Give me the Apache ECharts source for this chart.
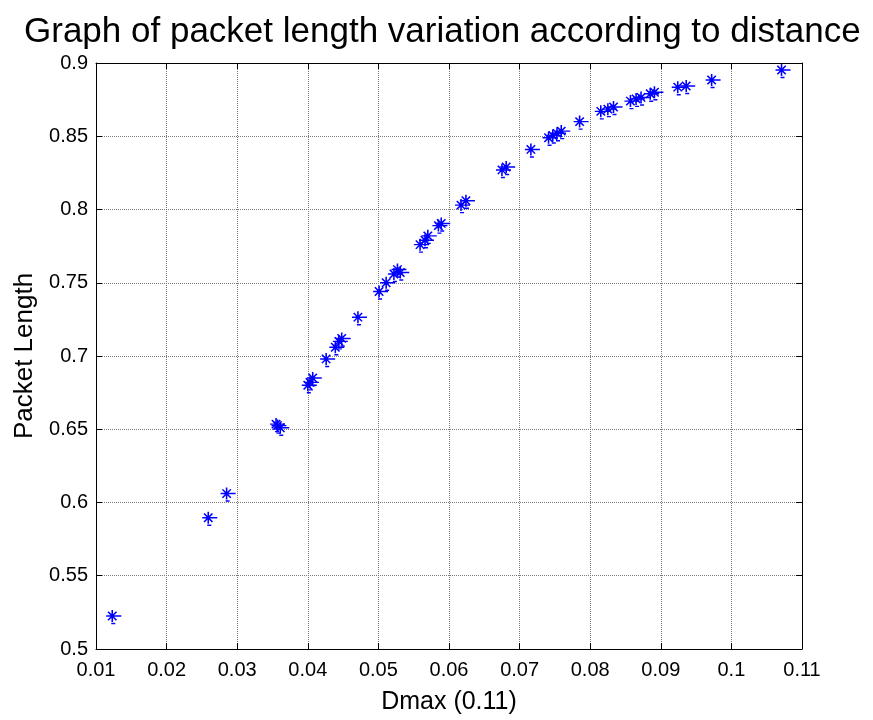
<!DOCTYPE html>
<html>
<head>
<meta charset="utf-8">
<script src="https://cdn.jsdelivr.net/npm/echarts@6/dist/echarts.min.js"></script>
<style>
html,body{margin:0;padding:0;background:#fff;}
#chart{width:873px;height:720px;}
</style>
</head>
<body>
<div id="chart"></div>
<script>
// Data
var dmax = [0.0123,0.0259,0.0285,0.0355,0.0357,0.0361,0.0400,0.0403,0.0407,0.0426,
  0.0439,0.0444,0.0448,0.0471,0.0501,0.0511,0.0522,0.0527,0.0531,0.0559,
  0.0566,0.0570,0.0585,0.0589,0.0617,0.0624,0.0675,0.0681,0.0716,0.0741,
  0.0747,0.0753,0.0759,0.0785,0.0815,0.0825,0.0833,0.0857,0.0865,0.0872,
  0.0885,0.0891,0.0924,0.0936,0.0972,0.1071];
var packetLength = [0.5225,0.5896,0.6061,0.6535,0.6525,0.6510,0.6800,0.6820,0.6850,0.6980,
  0.7060,0.7100,0.7120,0.7265,0.7440,0.7500,0.7560,0.7590,0.7570,0.7760,
  0.7790,0.7820,0.7890,0.7905,0.8030,0.8060,0.8270,0.8290,0.8410,0.8490,
  0.8505,0.8520,0.8535,0.8600,0.8670,0.8685,0.8700,0.8740,0.8755,0.8765,
  0.8790,0.8800,0.8835,0.8843,0.8884,0.8952];
var xTicks = [0.01,0.02,0.03,0.04,0.05,0.06,0.07,0.08,0.09,0.1,0.11];
var yTicks = [0.5,0.55,0.6,0.65,0.7,0.75,0.8,0.85,0.9];

var titleText = 'Graph of packet length variation according to distance';
var xName = 'Dmax (0.11)';
var yName = 'Packet Length';

var points = dmax.map(function (x, i) { return [x, packetLength[i]]; });
var font = 'Liberation Sans, Arial, sans-serif';
function fmt(v) { return String(Number(v.toFixed(2))); }

var asterisk = 'path://M0,-6L0,6M-6,0L9,0M-4.2,-4.2L4.2,4.2M-4.2,4.2L4.2,-4.2M-1,7.5L3,7.5';

var chart = echarts.init(document.getElementById('chart'), null, {renderer: 'canvas'});
var xStep = Number((xTicks[1] - xTicks[0]).toFixed(4));
var yStep = Number((yTicks[1] - yTicks[0]).toFixed(4));

var baseX = {
  type: 'value', min: xTicks[0], max: xTicks[xTicks.length - 1], interval: xStep,
  axisLine: {show: true, onZero: false, lineStyle: {color: '#000', width: 1}},
  axisTick: {show: true, inside: true, length: 6, lineStyle: {color: '#000'}}
};
var baseY = {
  type: 'value', min: yTicks[0], max: yTicks[yTicks.length - 1], interval: yStep,
  axisLine: {show: true, onZero: false, lineStyle: {color: '#000', width: 1}},
  axisTick: {show: true, inside: true, length: 6, lineStyle: {color: '#000'}}
};

chart.setOption({
  animation: false,
  backgroundColor: '#fff',
  title: {
    text: titleText, left: 19, top: 10,
    textStyle: {fontFamily: font, fontSize: 35, fontWeight: 'normal', color: '#000'}
  },
  grid: {left: 96, right: 71, top: 63, bottom: 70, containLabel: false},
  xAxis: [
    Object.assign({}, baseX, {
      position: 'bottom',
      name: xName, nameLocation: 'middle', nameGap: 41,
      nameTextStyle: {fontFamily: font, fontSize: 25, color: '#000'},
      axisLabel: {show: true, formatter: fmt, fontFamily: font, fontSize: 20, color: '#000', margin: 11},
      splitLine: {show: true, lineStyle: {color: '#7a7a7a', type: [1, 1], width: 1}}
    }),
    Object.assign({}, baseX, {
      position: 'top', axisLabel: {show: false}, splitLine: {show: false}
    })
  ],
  yAxis: [
    Object.assign({}, baseY, {
      position: 'left',
      name: yName, nameLocation: 'middle', nameGap: 58, nameRotate: 90,
      nameTextStyle: {fontFamily: font, fontSize: 26, color: '#000'},
      axisLabel: {show: true, formatter: fmt, fontFamily: font, fontSize: 20, color: '#000', margin: 8},
      splitLine: {show: true, lineStyle: {color: '#7a7a7a', type: [1, 1], width: 1}}
    }),
    Object.assign({}, baseY, {
      position: 'right', axisLabel: {show: false}, splitLine: {show: false}
    })
  ],
  series: [{
    type: 'scatter',
    xAxisIndex: 0, yAxisIndex: 0,
    data: points,
    symbol: asterisk,
    symbolSize: [15, 13.5],
    symbolOffset: [1.5, 0.75],
    itemStyle: {color: 'transparent', borderColor: '#0000ff', borderWidth: 1.5, opacity: 1}
  }]
});
</script>
</body>
</html>
